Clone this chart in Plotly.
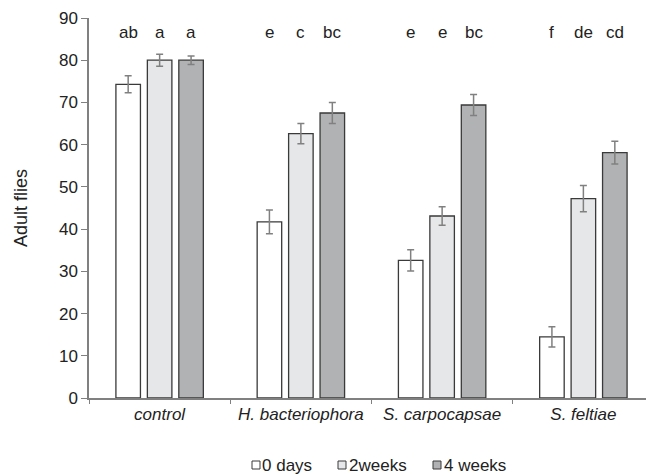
import plotly.graph_objects as go

categories = ["control", "H. bacteriophora", "S. carpocapsae", "S. feltiae"]
series_names = ["0 days", "2weeks", "4 weeks"]
values = {
    "0 days": [74.3, 41.7, 32.6, 14.5],
    "2weeks": [80.0, 62.6, 43.1, 47.2],
    "4 weeks": [80.0, 67.5, 69.4, 58.1],
}
errors = {
    "0 days": [2.0, 2.8, 2.5, 2.4],
    "2weeks": [1.4, 2.4, 2.2, 3.1],
    "4 weeks": [1.0, 2.5, 2.5, 2.7],
}
letters = {
    "0 days": ["ab", "e", "e", "f"],
    "2weeks": ["a", "c", "e", "de"],
    "4 weeks": ["a", "bc", "bc", "cd"],
}
letter_y = 86.5
colors = {"0 days": "#ffffff", "2weeks": "#e6e7e8", "4 weeks": "#b1b2b4"}

# page offset (default body margin of the html page)
OFF = 8
W, H = 654 - OFF, 475 - OFF
L, R, T, B = 89 - OFF, 0, 18 - OFF, 475 - 398
pw, ph = W - L - R, H - T - B
FONT = "Liberation Sans, Arial, sans-serif"
FS = 17

def px_x(p):
    # p given in page pixels
    return (p - OFF - L) / pw

def px_y(p):
    return (H - B - (p - OFF)) / ph

fig = go.Figure()
for s in series_names:
    fig.add_trace(go.Bar(
        x=categories, y=values[s], name=s,
        marker=dict(color=colors[s], line=dict(color="#3a3a3a", width=1.3)),
        error_y=dict(type="data", array=errors[s], color="#808080", thickness=1.5, width=3.5),
    ))

pitch = 31.5
for i, s in enumerate(series_names):
    for j, c in enumerate(categories):
        fig.add_annotation(x=c, y=letter_y, text=letters[s][j], showarrow=False,
                           xshift=(i - 1) * pitch, yanchor="middle",
                           font=dict(size=FS, color="#222"))

# custom legend: square + label
legend_sq_x = [252, 338, 433]
legend_txt_x = [260, 347, 442]
legend_y = 465
for k, s in enumerate(series_names):
    fig.add_shape(type="rect", xref="paper", yref="paper",
                  x0=px_x(legend_sq_x[k]), x1=px_x(legend_sq_x[k] + 8),
                  y0=px_y(legend_y + 4), y1=px_y(legend_y - 4),
                  fillcolor=colors[s], line=dict(color="#3a3a3a", width=1))
    fig.add_annotation(xref="paper", yref="paper", x=px_x(legend_txt_x[k]), y=px_y(legend_y),
                       text=s, showarrow=False, xanchor="left", yanchor="middle",
                       font=dict(size=FS, color="#222"))

fig.update_layout(
    width=W, height=H,
    margin=dict(l=L, r=R, t=T, b=B),
    paper_bgcolor="white", plot_bgcolor="white",
    font=dict(family=FONT, color="#222"),
    barmode="group", bargap=0.332, bargroupgap=0.22,
    showlegend=False,
    xaxis=dict(
        automargin=False,
        showline=True, linecolor="#808080", linewidth=1.5,
        ticks="outside", tickson="boundaries", ticklen=4, tickcolor="#808080",
        tickfont=dict(size=FS, style="italic", color="#222"),
        showgrid=False,
    ),
    yaxis=dict(
        automargin=False,
        range=[0, 90], dtick=10, showline=True, linecolor="#808080", linewidth=1.5,
        ticks="outside", ticklen=6, tickcolor="#808080",
        tickfont=dict(size=FS, color="#222"), showgrid=False, zeroline=False,
        title=dict(text="Adult flies", font=dict(size=18, color="#222"), standoff=27),
    ),
)

fig.write_html("out.html")
